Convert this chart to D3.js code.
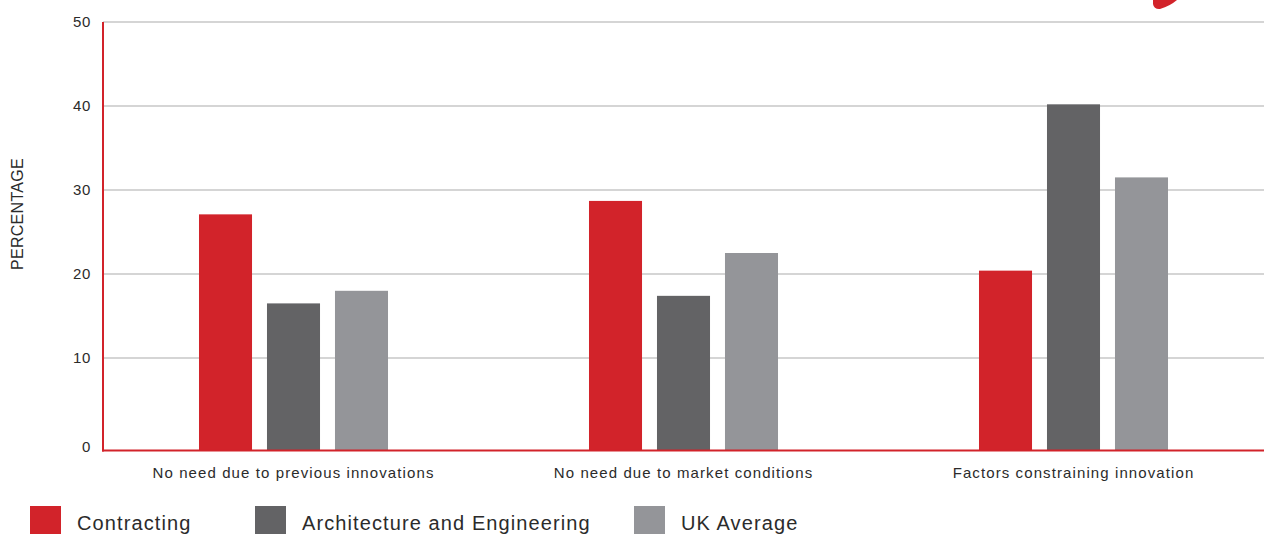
<!DOCTYPE html>
<html>
<head>
<meta charset="utf-8">
<script src="https://cdn.jsdelivr.net/npm/d3@7"></script>
<style>
  html, body { margin: 0; padding: 0; background: #fff; }
  svg { display: block; }
  text { font-family: "Liberation Sans", Arial, Helvetica, sans-serif; fill: #2b2b2b; }
</style>
</head>
<body>
<svg id="chart" width="1264" height="534"></svg>
<script>
// Reasons for not innovating, by sector (percentage of respondents)
const categories = [
  "No need due to previous innovations",
  "No need due to market conditions",
  "Factors constraining innovation"
];
const seriesNames = ["Contracting", "Architecture and Engineering", "UK Average"];
const contracting  = [27.1, 28.7, 20.4];
const archEng      = [16.5, 17.4, 40.2];
const ukAverage    = [18.0, 22.5, 31.5];
const yTicks = [0, 10, 20, 30, 40, 50];
const colors = ["#d2232a", "#636365", "#949599"];

const seriesValues = [contracting, archEng, ukAverage];
const rows = categories.map((c, i) => ({
  category: c,
  values: seriesNames.map((s, j) => ({ series: s, value: seriesValues[j][i] }))
}));

const W = 1264, H = 534;
const plot = { left: 103, right: W, top: 22, baseline: 450.5 };

const svg = d3.select("#chart");

const y = d3.scaleLinear().domain([0, 50]).range([442, plot.top]);
const x0 = d3.scaleBand().domain(categories).range([98.5, 1268.5]);
const x1 = d3.scaleBand().domain(seriesNames)
  .range([0, x0.bandwidth()])
  .paddingInner(0.22)
  .paddingOuter(1.478);
const color = d3.scaleOrdinal().domain(seriesNames).range(colors);

// horizontal gridlines
svg.append("g")
  .selectAll("line")
  .data(yTicks.filter(t => t > 0))
  .join("line")
  .attr("x1", plot.left)
  .attr("x2", plot.right)
  .attr("y1", d => y(d))
  .attr("y2", d => y(d))
  .attr("stroke", "#d5d5d5")
  .attr("stroke-width", 2);

// bars
svg.append("g")
  .selectAll("g")
  .data(rows)
  .join("g")
  .attr("transform", d => `translate(${x0(d.category)},0)`)
  .selectAll("rect")
  .data(d => d.values)
  .join("rect")
  .attr("x", d => x1(d.series))
  .attr("width", x1.bandwidth())
  .attr("y", d => y(d.value))
  .attr("height", d => plot.baseline - y(d.value))
  .attr("fill", d => color(d.series));

// axis lines
svg.append("line")
  .attr("x1", plot.left).attr("x2", plot.left)
  .attr("y1", plot.top).attr("y2", plot.baseline + 1)
  .attr("stroke", "#d2232a").attr("stroke-width", 2);
svg.append("line")
  .attr("x1", plot.left - 1).attr("x2", plot.right)
  .attr("y1", plot.baseline).attr("y2", plot.baseline)
  .attr("stroke", "#d2232a").attr("stroke-width", 2);

// y tick labels
const yAxis = svg.append("g")
  .attr("transform", `translate(${plot.left},0)`)
  .call(d3.axisLeft(y).tickValues(yTicks).tickSize(0).tickPadding(12));
yAxis.select(".domain").remove();
yAxis.selectAll("text")
  .attr("font-size", 15)
  .attr("letter-spacing", "0.6px")
  .style("font-family", "'Liberation Sans', Arial, sans-serif")
  .attr("fill", "#2b2b2b");
yAxis.selectAll(".tick").filter(d => d === 0)
  .select("text").attr("dy", "0.62em");

// y title
svg.append("text")
  .attr("transform", "translate(23,214) rotate(-90)")
  .attr("text-anchor", "middle")
  .attr("font-size", 16)
  .attr("letter-spacing", "0.3px")
  .text("PERCENTAGE");

// category labels
svg.append("g")
  .selectAll("text")
  .data(categories)
  .join("text")
  .attr("x", d => x0(d) + x0.bandwidth() / 2)
  .attr("y", 478)
  .attr("text-anchor", "middle")
  .attr("font-size", 15)
  .attr("letter-spacing", "1.1px")
  .text(d => d);

// legend
const legendX = [30, 255, 634];
const legend = svg.append("g")
  .selectAll("g")
  .data(seriesNames)
  .join("g")
  .attr("transform", (d, i) => `translate(${legendX[i]},506)`);
legend.append("rect")
  .attr("width", 31).attr("height", 31)
  .attr("fill", d => color(d));
legend.append("text")
  .attr("x", 47).attr("y", 24)
  .attr("font-size", 20)
  .attr("letter-spacing", "1.1px")
  .text(d => d);

// corner brush mark
svg.append("path")
  .attr("d", "M1153,0 L1177,0 Q1170,6 1160,9 Q1154,9.5 1153,4 Z")
  .attr("fill", "#d2232a");
</script>
</body>
</html>
